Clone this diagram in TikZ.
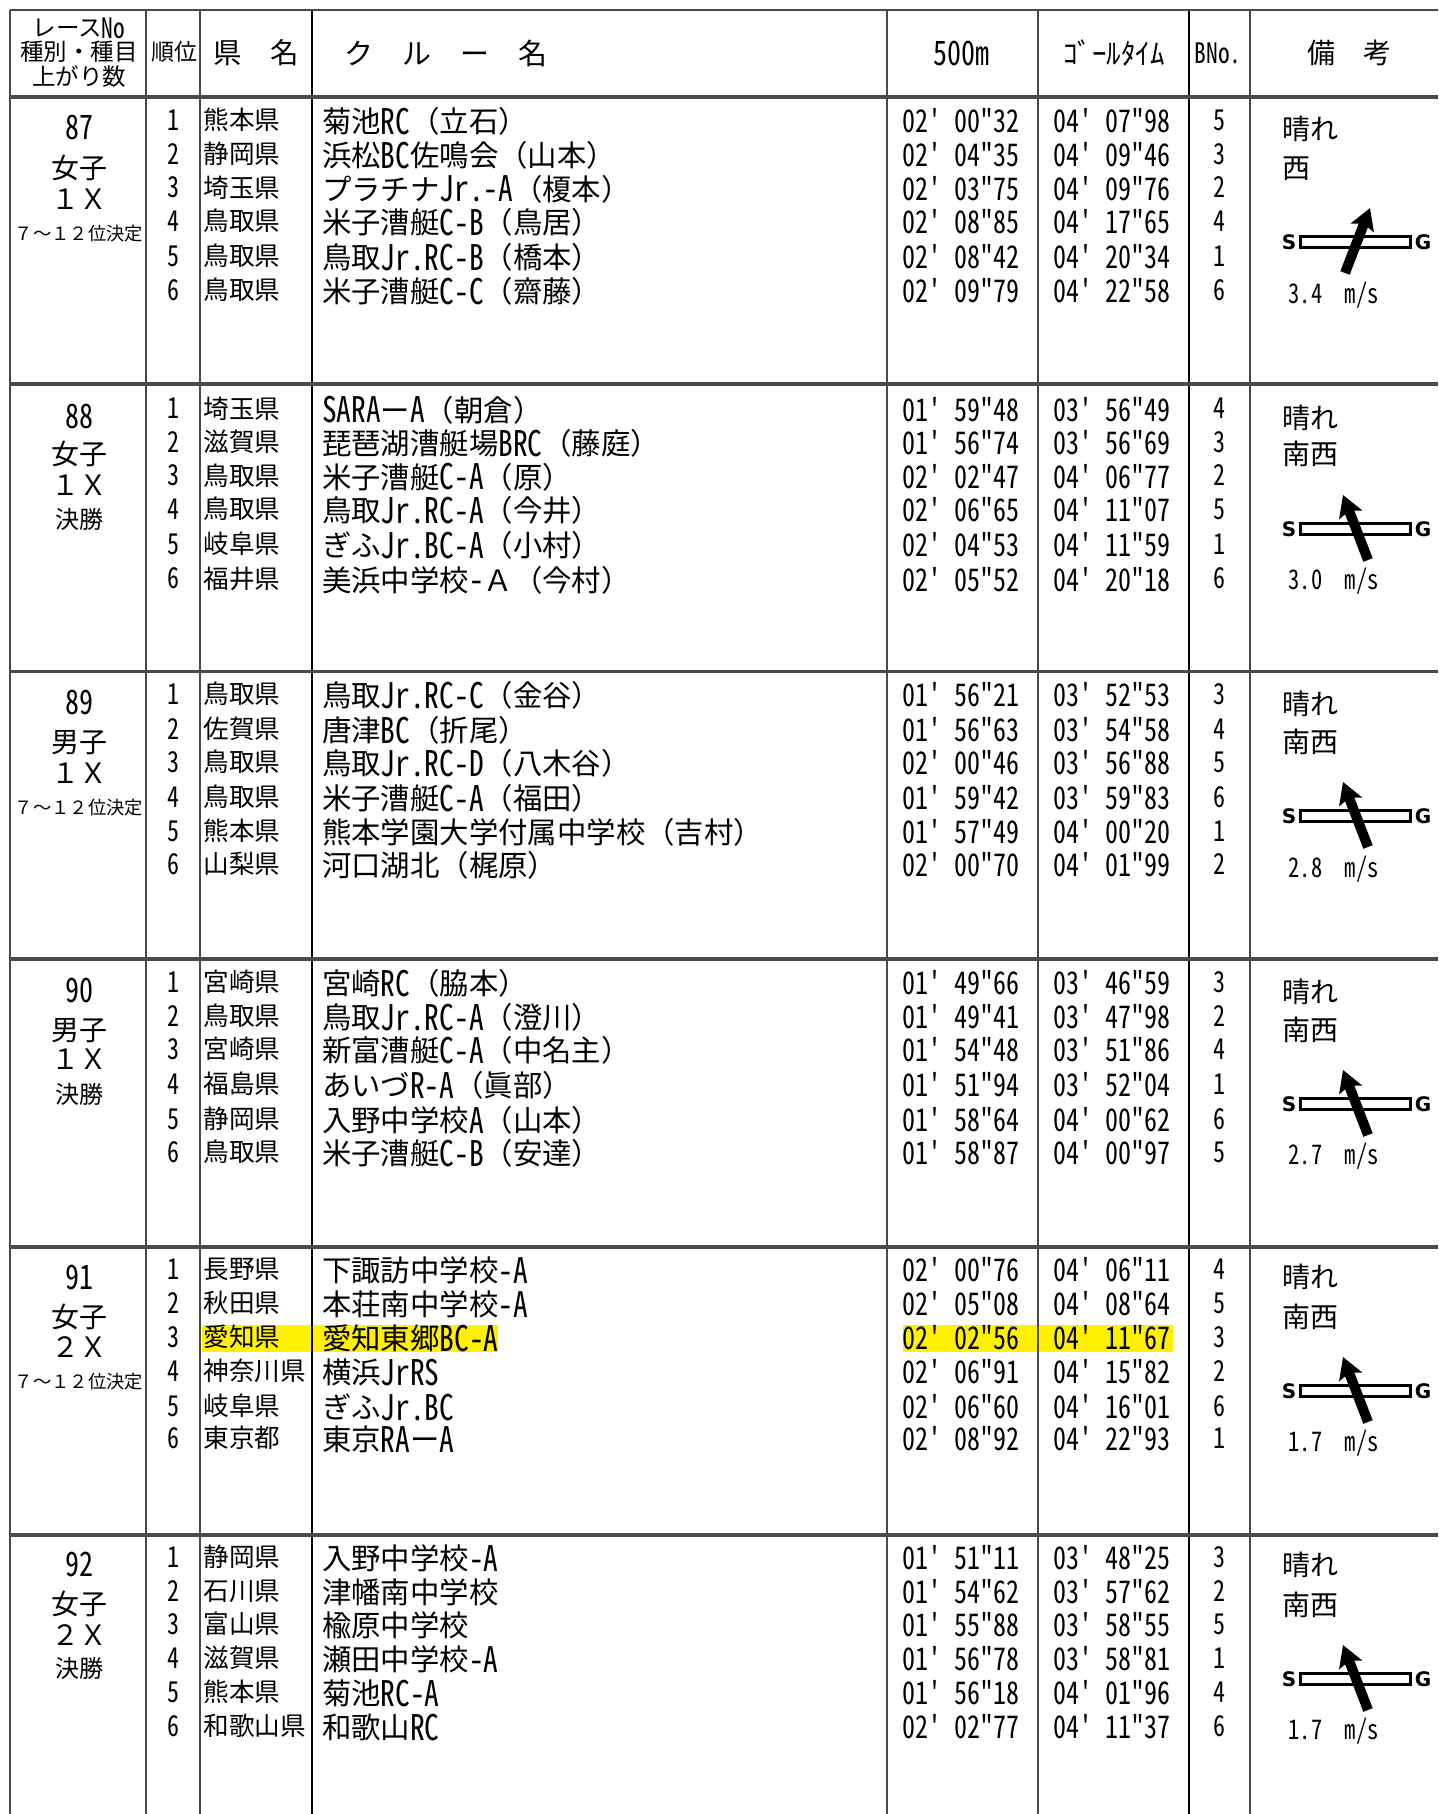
\documentclass[tikz,border=0pt]{standalone}
\usepackage{fontspec}
\usetikzlibrary{arrows.meta}
\setmainfont{Noto Sans CJK JP}
\newfontfamily\hwfont{Noto Sans CJK JP}[RawFeature=+hwid,Scale=1.2,FakeStretch=0.8333]
\newfontfamily\sgfont{DejaVu Sans}[BoldFont={DejaVu Sans Bold}]
\newcommand{\hw}[1]{\raisebox{-.055em}{\hwfont #1}}
\definecolor{gridcol}{HTML}{4A4A4A}
\definecolor{hilite}{HTML}{FFF000}
\tikzset{
  sz/.style={font=\fontsize{#1pt}{#1pt}\selectfont, text height=.88*#1pt, text depth=.12*#1pt, inner sep=0pt, outer sep=0pt},
  lft/.style={anchor=west},
  gridv/.style={draw=gridcol, line width=2pt},
  gridk/.style={draw=black, line width=1.8pt},
  gridh/.style={draw=gridcol, line width=3.2pt},
  windbar/.style={draw=black, fill=white, line width=3pt, minimum width=110pt, minimum height=11pt, inner sep=0pt},
  windarrow/.style={-{Stealth[length=21pt,width=24pt,inset=4pt]}, line width=10pt, black},
  sglabel/.style={font=\fontsize{20pt}{20pt}\selectfont\sgfont\bfseries, inner sep=0pt}
}
% \crewrow{id}{y rank}{rank}{pref}{crew}{t500}{tgoal}{bno}
\newcommand{\crewrow}[8]{%
  \pgfmathsetmacro{\yy}{#2+1.5}%
  \node[sz=24] (rank#1) at (173.5,#2) {\hw{#3}};
  \node[sz=25.6,lft] (pref#1) at (203.5,#2) {#4};
  \node[sz=29.4,lft] (crew#1) at (322,\yy) {#5};
  \node[sz=26,lft] (split#1) at (902.5,\yy) {\hw{#6}};
  \node[sz=26,lft] (goal#1) at (1053.5,\yy) {\hw{#7}};
  \node[sz=24] (bno#1) at (1219,#2) {\hw{#8}};
}
% \raceblock{id}{sex}{boat}{y no}{y sex}{y boat}
\newcommand{\raceblock}[6]{%
  \node[sz=28] (no#1) at (79,#4) {\hw{#1}};
  \node[sz=28] (sex#1) at (79,#5) {#2};
  \node[sz=28] (boat#1) at (79,#6) {#3};
}
\newcommand{\placement}[2]{\node[sz=18.3] (stage#1) at (79,#2) {７～１２位決定};}
\newcommand{\finalrace}[2]{\node[sz=24] (stage#1) at (79,#2) {決勝};}
\begin{document}
\begin{tikzpicture}[x=1pt,y=-1pt]
\useasboundingbox (0,0) rectangle (1438,1814);
\fill[white] (0,0) rectangle (1438,1814);
% highlight
\fill[hilite] (202,1325) rectangle (498,1352);
\fill[hilite] (902.7,1325) rectangle (1172.7,1352);
% grid
\foreach \x in {10,145.7,200,886.5,1037.6,1250}
  \draw[gridv] (\x,10) -- (\x,1814);
\foreach \x in {312,1189}
  \draw[gridk] (\x,10) -- (\x,1814);
\draw[gridv] (10,10.5) -- (1438,10.5);
\foreach \y in {97,384,671.5,959,1247,1535}
  \draw[gridh] (10,\y) -- (1438,\y);
% header
\node[sz=23.5] (h1a) at (79,28) {レース\hw{No}};
\node[sz=23.5] (h1b) at (79,52) {種別・種目};
\node[sz=23.5] (h1c) at (79,77) {上がり数};
\node[sz=23] (h2) at (174,52) {順位};
\node[sz=28.5] (h3) at (256,53) {県　名};
\node[sz=29,lft] (h4) at (344,53) {ク　ル　ー　名};
\node[sz=28] (h5) at (961,53) {\hw{500m}};
\node[sz=29] (h6) at (1114,53) {ｺﾞｰﾙﾀｲﾑ};
\node[sz=23.5] (h7) at (1218,53) {\hw{BNo.}};
\node[sz=28] (h8) at (1349,53) {備　考};
% race columns
\raceblock{87}{女子}{１Ｘ}{127}{168}{199}\placement{87}{234}
\raceblock{88}{女子}{１Ｘ}{416.5}{453.5}{484.7}\finalrace{88}{519.5}
\raceblock{89}{男子}{１Ｘ}{702}{741.6}{773}\placement{89}{807.5}
\raceblock{90}{男子}{１Ｘ}{990}{1030}{1058.6}\finalrace{90}{1094.4}
\raceblock{91}{女子}{２Ｘ}{1277}{1316.5}{1346.6}\placement{91}{1381.3}
\raceblock{92}{女子}{２Ｘ}{1564}{1603.4}{1634.7}\finalrace{92}{1668.3}
% rows
\crewrow{87a}{120}{1}{熊本県}{菊池\hw{RC}（立石）}{02' 00"32}{04' 07"98}{5}
\crewrow{87b}{154}{2}{静岡県}{浜松\hw{BC}佐鳴会（山本）}{02' 04"35}{04' 09"46}{3}
\crewrow{87c}{187.5}{3}{埼玉県}{プラチナ\hw{Jr.-A}（榎本）}{02' 03"75}{04' 09"76}{2}
\crewrow{87d}{221}{4}{鳥取県}{米子漕艇\hw{C-B}（鳥居）}{02' 08"85}{04' 17"65}{4}
\crewrow{87e}{256}{5}{鳥取県}{鳥取\hw{Jr.RC-B}（橋本）}{02' 08"42}{04' 20"34}{1}
\crewrow{87f}{290}{6}{鳥取県}{米子漕艇\hw{C-C}（齋藤）}{02' 09"79}{04' 22"58}{6}
\crewrow{88a}{408.4}{1}{埼玉県}{\hw{SARA}ー\hw{A}（朝倉）}{01' 59"48}{03' 56"49}{4}
\crewrow{88b}{442}{2}{滋賀県}{琵琶湖漕艇場\hw{BRC}（藤庭）}{01' 56"74}{03' 56"69}{3}
\crewrow{88c}{475.5}{3}{鳥取県}{米子漕艇\hw{C-A}（原）}{02' 02"47}{04' 06"77}{2}
\crewrow{88d}{509}{4}{鳥取県}{鳥取\hw{Jr.RC-A}（今井）}{02' 06"65}{04' 11"07}{5}
\crewrow{88e}{544}{5}{岐阜県}{ぎふ\hw{Jr.BC-A}（小村）}{02' 04"53}{04' 11"59}{1}
\crewrow{88f}{578.5}{6}{福井県}{美浜中学校\hw{-}Ａ（今村）}{02' 05"52}{04' 20"18}{6}
\crewrow{89a}{694}{1}{鳥取県}{鳥取\hw{Jr.RC-C}（金谷）}{01' 56"21}{03' 52"53}{3}
\crewrow{89b}{729}{2}{佐賀県}{唐津\hw{BC}（折尾）}{01' 56"63}{03' 54"58}{4}
\crewrow{89c}{762}{3}{鳥取県}{鳥取\hw{Jr.RC-D}（八木谷）}{02' 00"46}{03' 56"88}{5}
\crewrow{89d}{797}{4}{鳥取県}{米子漕艇\hw{C-A}（福田）}{01' 59"42}{03' 59"83}{6}
\crewrow{89e}{831}{5}{熊本県}{熊本学園大学付属中学校（吉村）}{01' 57"49}{04' 00"20}{1}
\crewrow{89f}{864}{6}{山梨県}{河口湖北（梶原）}{02' 00"70}{04' 01"99}{2}
\crewrow{90a}{982}{1}{宮崎県}{宮崎\hw{RC}（脇本）}{01' 49"66}{03' 46"59}{3}
\crewrow{90b}{1016}{2}{鳥取県}{鳥取\hw{Jr.RC-A}（澄川）}{01' 49"41}{03' 47"98}{2}
\crewrow{90c}{1049}{3}{宮崎県}{新富漕艇\hw{C-A}（中名主）}{01' 54"48}{03' 51"86}{4}
\crewrow{90d}{1084}{4}{福島県}{あいづ\hw{R-A}（眞部）}{01' 51"94}{03' 52"04}{1}
\crewrow{90e}{1119}{5}{静岡県}{入野中学校\hw{A}（山本）}{01' 58"64}{04' 00"62}{6}
\crewrow{90f}{1152}{6}{鳥取県}{米子漕艇\hw{C-B}（安達）}{01' 58"87}{04' 00"97}{5}
\crewrow{91a}{1269}{1}{長野県}{下諏訪中学校\hw{-A}}{02' 00"76}{04' 06"11}{4}
\crewrow{91b}{1303}{2}{秋田県}{本荘南中学校\hw{-A}}{02' 05"08}{04' 08"64}{5}
\crewrow{91c}{1337}{3}{愛知県}{愛知東郷\hw{BC-A}}{02' 02"56}{04' 11"67}{3}
\crewrow{91d}{1371}{4}{神奈川県}{横浜\hw{JrRS}}{02' 06"91}{04' 15"82}{2}
\crewrow{91e}{1406}{5}{岐阜県}{ぎふ\hw{Jr.BC}}{02' 06"60}{04' 16"01}{6}
\crewrow{91f}{1438}{6}{東京都}{東京\hw{RA}ー\hw{A}}{02' 08"92}{04' 22"93}{1}
\crewrow{92a}{1557}{1}{静岡県}{入野中学校\hw{-A}}{01' 51"11}{03' 48"25}{3}
\crewrow{92b}{1591}{2}{石川県}{津幡南中学校}{01' 54"62}{03' 57"62}{2}
\crewrow{92c}{1624}{3}{富山県}{楡原中学校}{01' 55"88}{03' 58"55}{5}
\crewrow{92d}{1658}{4}{滋賀県}{瀬田中学校\hw{-A}}{01' 56"78}{03' 58"81}{1}
\crewrow{92e}{1692}{5}{熊本県}{菊池\hw{RC-A}}{01' 56"18}{04' 01"96}{4}
\crewrow{92f}{1726}{6}{和歌山県}{和歌山\hw{RC}}{02' 02"77}{04' 11"37}{6}
% remarks
\node[sz=28,lft] (wx87) at (1282.5,128.4) {晴れ};
\node[sz=28,lft] (dir87) at (1282.5,168) {西};
\node[sz=28,lft] (wx88) at (1282.5,417.6) {晴れ};
\node[sz=28,lft] (dir88) at (1282.5,453.5) {南西};
\node[sz=28,lft] (wx89) at (1282.5,703.4) {晴れ};
\node[sz=28,lft] (dir89) at (1282.5,741.6) {南西};
\node[sz=28,lft] (wx90) at (1282.5,991.4) {晴れ};
\node[sz=28,lft] (dir90) at (1282.5,1029.6) {南西};
\node[sz=28,lft] (wx91) at (1282.5,1277) {晴れ};
\node[sz=28,lft] (dir91) at (1282.5,1316.5) {南西};
\node[sz=28,lft] (wx92) at (1282.5,1565) {晴れ};
\node[sz=28,lft] (dir92) at (1282.5,1604.6) {南西};
% wind
\foreach \id/\yb/\ys/\tx/\tp/\spd in {87/242/294/1345/1370/3.4,88/529/579.6/1368/1343/3.0,89/816/867.7/1368/1343/2.8,90/1104/1154.6/1368/1343/2.7,91/1391/1441.5/1368/1343/1.7,92/1679/1729.6/1368/1343/1.7}{
  \node[windbar] (bar\id) at (1355,\yb) {};
  \node[sglabel] (s\id) at (1289,\yb) {S};
  \node[sglabel] (g\id) at (1423,\yb) {G};
  \coordinate (tail\id) at (\tx,\yb+31);
  \coordinate (tip\id) at (\tp,\yb-34);
  \draw[windarrow] (tail\id) -- (tip\id);
  \node[sz=22.5,lft] (mps\id) at (1288.5,\ys) {\hw{\spd~~m/s}};
}
\end{tikzpicture}
\end{document}
